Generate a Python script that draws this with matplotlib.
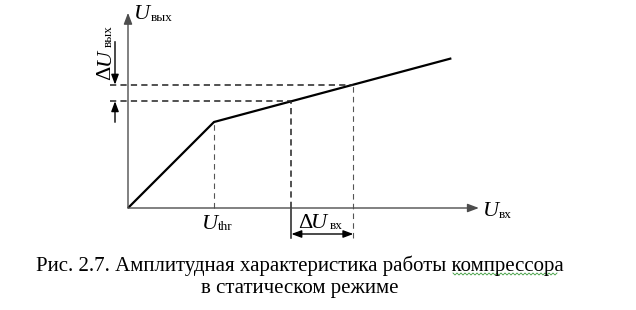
import numpy as np
import matplotlib
matplotlib.use('Agg')
import matplotlib.pyplot as plt
from matplotlib.transforms import offset_copy

# transfer curve of the compressor (arbitrary units, knee at U_thr)
u_in = [0.0, 1.0, 3.76]
u_out = [0.0, 1.0, 1.74]
u_thr = 1.0
# two operating points on the compressed part
u_in_ops = [1.90, 2.62]
u_out_ops = np.interp(u_in_ops, u_in, u_out)
x_axis_end, y_axis_end = 4.08, 2.27

caption = ['Рис. 2.7. Амплитудная характеристика работы компрессора',
           'в статическом режиме']

plt.rcParams['font.family'] = ['Liberation Serif', 'DejaVu Serif']
plt.rcParams['lines.scale_dashes'] = False

W, H = 636, 310
ox, oy, unit = 128, 208, 86  # origin in pixels, pixels per unit
fig = plt.figure(figsize=(W / 100, H / 100), dpi=100)
ax = fig.add_axes([0, 0, 1, 1])
ax.set_xlim(-ox / unit, (W - ox) / unit)
ax.set_ylim(-(H - oy) / unit, oy / unit)
ax.axis('off')
k = 1 / unit  # one pixel in data units

axis_col = '#4d4d4d'
head = '-|>,head_length=0.45,head_width=0.17'
ax.annotate('', xy=(x_axis_end, 0), xytext=(0, 0),
            arrowprops=dict(arrowstyle=head, color=axis_col, lw=1.0,
                            mutation_scale=15, shrinkA=0, shrinkB=0))
ax.annotate('', xy=(0, y_axis_end), xytext=(0, 0),
            arrowprops=dict(arrowstyle=head, color=axis_col, lw=1.0,
                            mutation_scale=15, shrinkA=0, shrinkB=0))

ax.plot(u_in, u_out, color='black', lw=1.6, solid_capstyle='butt')

thin = dict(color='#555555', lw=0.8, dashes=(4, 3))
bold = dict(color='#222222', lw=1.1, dashes=(4.5, 3))
x1, x2 = u_in_ops
y1, y2 = u_out_ops
ax.plot([u_thr, u_thr], [0, np.interp(u_thr, u_in, u_out)], **thin)
ax.plot([x1, x1], [0, y1], **bold)
ax.plot([x1, x1], [0, -30 * k], color='#222222', lw=1.1)
ax.plot([x2, x2], [-30 * k, y2], **thin)
ax.plot([-18 * k, x1], [y1, y1], **bold)
ax.plot([-18 * k, x2], [y2, y2], **bold)

small = '-|>,head_length=0.4,head_width=0.15'
ax.annotate('', xy=(x1, -26 * k), xytext=(x2, -26 * k),
            arrowprops=dict(arrowstyle='<|-|>,head_length=0.4,head_width=0.15',
                            color='black', lw=1.0, mutation_scale=15,
                            shrinkA=0, shrinkB=0))
ax.annotate('', xy=(-13 * k, y2), xytext=(-13 * k, y2 + 43 * k),
            arrowprops=dict(arrowstyle=small, color='black', lw=1.0,
                            mutation_scale=15, shrinkA=0, shrinkB=0))
ax.annotate('', xy=(-13 * k, y1), xytext=(-13 * k, y1 - 21 * k),
            arrowprops=dict(arrowstyle=small, color='black', lw=1.0,
                            mutation_scale=15, shrinkA=0, shrinkB=0))


def put(x, y, s, dx, dy, size=16, style='normal', rot=0):
    tr = offset_copy(ax.transData, fig=fig, x=dx, y=dy, units='dots')
    ax.text(x, y, s, transform=tr, fontsize=size, fontstyle=style,
            rotation=rot, rotation_mode='anchor', ha='left', va='baseline')


# U_вых
put(0, y_axis_end, 'U', 6, -6, style='italic')
put(0, y_axis_end, 'вых', 23, -8, size=9.5)
# U_вх
put(x_axis_end, 0, 'U', 4, -8, style='italic')
put(x_axis_end, 0, 'вх', 20, -10, size=9.5)
# U_thr
put(u_thr, 0, 'U', -12, -21, style='italic')
put(u_thr, 0, 'thr', 4, -22, size=9.5)
# ΔU_вх
put(x1, 0, 'Δ', 7, -20)
put(x1, 0, 'U', 20, -20, style='italic')
put(x1, 0, 'вх', 38, -21, size=9.5)
# ΔU_вых (vertical)
put(0, y2, 'Δ', -18, 5, rot=90)
put(0, y2, 'U', -18, 20, style='italic', rot=90)
put(0, y2, 'вых', -16, 38, size=9.5, rot=90)

fig.text(300 / W, (H - 271) / H, caption[0], ha='center', va='baseline', fontsize=15)
fig.text(300 / W, (H - 293) / H, caption[1], ha='center', va='baseline', fontsize=15)

# spell-check squiggle under the last word
sq_x = np.arange(453, 559, 2)
sq_y = np.where(np.arange(len(sq_x)) % 2 == 0, 273, 275)
ax.plot((sq_x - ox) / unit, (oy - sq_y) / unit, color='#3c9b3c', lw=0.6)

fig.savefig('out.png', dpi=100)
